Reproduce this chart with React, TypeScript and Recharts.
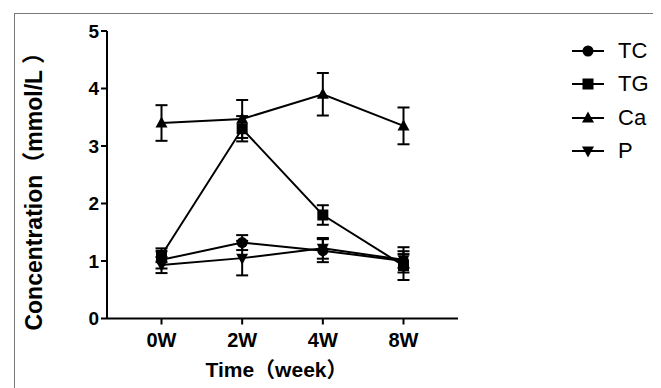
import React from "react";
import { LineChart, Line, XAxis, YAxis, ErrorBar, Legend, Label } from "recharts";

const weeks = ["0W", "2W", "4W", "8W"];
const tc = [1.02, 1.32, 1.18, 1.0];
const tcErr = [0.15, 0.13, 0.2, 0.12];
const tg = [1.1, 3.3, 1.8, 0.92];
const tgErr = [0.12, 0.22, 0.17, 0.25];
const ca = [3.4, 3.47, 3.9, 3.35];
const caErr = [0.31, 0.33, 0.37, 0.32];
const p = [0.93, 1.05, 1.22, 1.02];
const pErr = [0.14, 0.3, 0.18, 0.22];
const yTicks = [0, 1, 2, 3, 4, 5];

const data = weeks.map((w, i) => ({
  week: w,
  tc: tc[i], tcErr: tcErr[i],
  tg: tg[i], tgErr: tgErr[i],
  ca: ca[i], caErr: caErr[i],
  p: p[i], pErr: pErr[i],
}));

const FONT = "Arial, 'Liberation Sans', 'Noto Sans CJK SC', sans-serif";

type Shape = "circle" | "square" | "up" | "down";

function Marker({ cx, cy, shape }: { cx: number; cy: number; shape: Shape }) {
  if (shape === "circle") return <circle cx={cx} cy={cy} r={5.5} fill="#000" />;
  if (shape === "square") return <rect x={cx - 5.5} y={cy - 5.5} width={11} height={11} fill="#000" />;
  if (shape === "up")
    return <polygon points={`${cx},${cy - 6.5} ${cx + 6},${cy + 4.5} ${cx - 6},${cy + 4.5}`} fill="#000" />;
  return <polygon points={`${cx},${cy + 6.5} ${cx + 6},${cy - 4.5} ${cx - 6},${cy - 4.5}`} fill="#000" />;
}

const dotFor = (shape: Shape) => (props: any) =>
  <Marker key={`${shape}-${props.index}`} cx={props.cx} cy={props.cy} shape={shape} />;

const series: { key: string; name: string; shape: Shape }[] = [
  { key: "tc", name: "TC", shape: "circle" },
  { key: "tg", name: "TG", shape: "square" },
  { key: "ca", name: "Ca", shape: "up" },
  { key: "p", name: "P", shape: "down" },
];

function LegendBox() {
  return (
    <div style={{ fontFamily: FONT, fontSize: 22, color: "#000" }}>
      {series.map((s) => (
        <div key={s.key} style={{ display: "flex", alignItems: "center", height: 33.5 }}>
          <svg width={32} height={20}>
            <line x1={0} y1={10} x2={32} y2={10} stroke="#000" strokeWidth={2} />
            <Marker cx={16} cy={10} shape={s.shape} />
          </svg>
          <span style={{ marginLeft: 14 }}>{s.name}</span>
        </div>
      ))}
    </div>
  );
}

export default function App() {
  return (
    <div style={{ position: "relative", width: 653, height: 380 }}>
      <div
        style={{
          position: "absolute", left: 6, top: 5, width: 645, height: 390,
          border: "1px solid #777", boxSizing: "border-box",
        }}
      />
      <LineChart
        width={653}
        height={380}
        data={data}
        margin={{ top: 23, right: 118, bottom: 29.5, left: 39 }}
        style={{ position: "absolute", left: 0, top: 0 }}
      >
        <XAxis
          dataKey="week"
          padding={{ left: 54.5, right: 54.5 }}
          height={40}
          tickSize={6}
          tickMargin={8}
          axisLine={{ stroke: "#000", strokeWidth: 2 }}
          tickLine={{ stroke: "#000", strokeWidth: 2 }}
          tick={{ fill: "#000", fontSize: 20, fontWeight: "bold", fontFamily: FONT }}
        >
          <Label
            content={({ viewBox }: any) => (
              <text
                x={viewBox.x + viewBox.width / 2 - 6}
                y={viewBox.y + viewBox.height + 18}
                textAnchor="middle"
                fill="#000"
                fontSize={21}
                fontWeight="bold"
                fontFamily={FONT}
              >
                Time（week）
              </text>
            )}
          />
        </XAxis>
        <YAxis
          domain={[0, 5]}
          ticks={yTicks}
          width={60}
          tickSize={6}
          axisLine={{ stroke: "#000", strokeWidth: 2 }}
          tickLine={{ stroke: "#000", strokeWidth: 2 }}
          tick={{ fill: "#000", fontSize: 19, fontWeight: "bold", fontFamily: FONT }}
        >
          <Label
            content={({ viewBox }: any) => {
              const x = 26;
              const y = viewBox.y + viewBox.height / 2 + 11;
              return (
                <text
                  x={x}
                  y={y}
                  transform={`rotate(-90 ${x} ${y})`}
                  textAnchor="middle"
                  dominantBaseline="central"
                  fill="#000"
                  fontSize={23}
                  fontWeight="bold"
                  fontFamily={FONT}
                >
                  Concentration（mmol/L ）
                </text>
              );
            }}
          />
        </YAxis>
        <Legend
          layout="vertical"
          align="right"
          verticalAlign="top"
          content={() => <LegendBox />}
          wrapperStyle={{ left: 564, top: 26, width: 85 }}
        />
        {series.map((s) => (
          <Line
            key={s.key}
            dataKey={s.key}
            name={s.name}
            stroke="#000"
            strokeWidth={2}
            dot={dotFor(s.shape)}
            activeDot={false}
            isAnimationActive={false}
          >
            <ErrorBar dataKey={`${s.key}Err`} width={6} strokeWidth={2} stroke="#000" direction="y" />
          </Line>
        ))}
      </LineChart>
    </div>
  );
}
